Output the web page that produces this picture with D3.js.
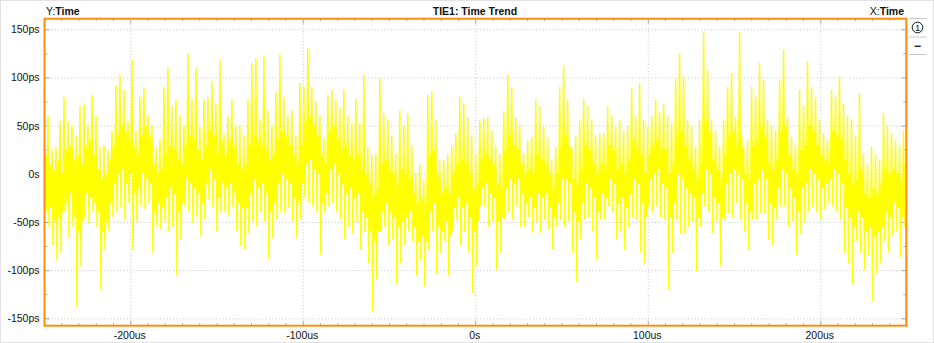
<!DOCTYPE html>
<html><head><meta charset="utf-8">
<script src="https://cdn.jsdelivr.net/npm/d3@7"></script>
<style>html,body{margin:0;padding:0;background:#fff;} svg{display:block;}</style>
</head><body><svg id="c" width="934" height="343"></svg>
<script>
const chartTitle = "TIE1: Time Trend";
const yAxisName = "Time";
const xAxisName = "Time";
const xDomainUs = [-250, 250];
const xTicksUs = [-200, -100, 0, 100, 200];
const xTickLabels = ["-200us", "-100us", "0s", "100us", "200us"];
const yTicksPs = [-150, -100, -50, 0, 50, 100, 150];
const yTickLabels = ["-150ps", "-100ps", "-50ps", "0s", "50ps", "100ps", "150ps"];
// TIE samples (ps), evenly spaced over the time window
const tieValuesPs = [
45,-30,20,-40,60,-55,10,-35,25,-75,5,-50,28,-90,15,-45,55,-82,0,-40,
80,-40,25,-30,55,-67,30,-20,50,-55,15,-45,40,-138,20,-60,70,-96,10,-50,
73,-45,30,-20,50,-52,35,-25,82,-40,20,-30,60,-55,5,-40,28,-121,-5,-60,
30,-79,0,-50,25,-60,15,-30,45,-45,30,-10,92,-40,40,0,103,-35,50,5,
87,-48,45,-10,55,-30,35,0,118,-79,30,-20,45,-50,20,-15,80,-34,40,0,
90,-37,50,-5,61,-30,40,-10,50,-82,10,-40,28,-55,0,-30,35,-58,5,-35,
90,-50,20,-25,111,-60,30,-15,70,-55,25,-20,77,-106,15,-40,60,-68,10,-30,
50,-34,30,-5,125,-40,40,-10,77,-51,35,-15,110,-45,25,-20,49,-65,15,-30,
77,-48,30,-10,80,-27,45,5,96,-35,40,-5,73,-60,20,-25,118,-40,35,-10,
42,-40,20,-15,60,-44,35,-10,77,-35,30,-20,50,-60,10,-30,49,-75,5,-35,
40,-79,10,-35,77,-62,30,-20,115,-50,40,-5,120,-55,35,-15,56,-40,30,-10,
122,-50,25,-20,66,-89,15,-40,50,-67,20,-30,85,-48,35,-10,124,-40,45,0,
80,-41,40,-5,60,-35,30,-10,66,-50,20,-25,40,-67,10,-30,94,-48,30,-10,
90,-24,55,10,130,-30,60,15,90,-34,50,5,75,-40,40,0,61,-84,20,-30,
38,-41,10,-20,82,-34,45,5,87,-31,50,10,77,-40,35,0,68,-48,25,-10,
87,-68,30,-20,60,-55,20,-15,52,-62,15,-25,78,-50,20,-20,52,-79,5,-40,
103,-60,0,-45,28,-93,-10,-60,20,-143,-20,-70,21,-110,-15,-60,99,-60,10,-40,
63,-55,15,-30,56,-75,5,-40,40,-68,0,-45,21,-115,-10,-55,66,-93,5,-50,
50,-75,0,-45,63,-60,-5,-40,30,-70,-20,-55,1,-106,-30,-70,10,-90,-25,-65,
-6,-117,-30,-70,82,-79,20,-40,85,-60,25,-30,56,-103,0,-55,14,-82,-20,-60,
14,-70,-15,-50,21,-106,-20,-65,30,-60,0,-35,42,-48,10,-25,80,-75,15,-35,
73,-60,10,-30,59,-82,0,-45,40,-124,-15,-60,21,-96,-10,-50,56,-34,15,-15,
58,-34,20,-10,59,-55,15,-20,45,-50,10,-25,30,-100,-10,-50,21,-82,-15,-45,
65,-48,25,-15,103,-40,40,-5,90,-48,30,-10,59,-34,25,-5,50,-55,10,-20,
21,-55,0,-30,35,-45,5,-25,38,-61,0,-35,78,-50,20,-20,70,-61,15,-25,
49,-48,10,-20,38,-58,0,-35,14,-79,-15,-45,28,-55,0,-30,90,-48,30,-5,
113,-55,40,-5,77,-50,30,-10,28,-82,-5,-40,40,-112,-10,-50,56,-68,5,-30,
78,-48,30,-10,70,-45,25,-15,56,-60,10,-25,40,-89,0,-40,42,-48,10,-20,
42,-48,5,-25,70,-34,30,-5,60,-40,25,-10,49,-68,5,-30,56,-60,10,-25,
45,-79,0,-35,50,-55,15,-20,89,-45,35,-5,60,-48,25,-10,94,-82,20,-30,
56,-93,0,-45,49,-34,20,-5,60,-40,30,0,77,-34,35,5,65,-45,25,-10,
73,-48,25,-15,60,-120,0,-45,52,-82,10,-30,99,-48,40,0,125,-62,45,-5,
101,-62,30,-15,56,-55,15,-20,50,-50,5,-25,28,-101,-5,-45,56,-55,10,-20,
147,-34,55,5,108,-40,45,0,56,-62,15,-25,45,-50,5,-30,28,-96,-5,-45,
56,-48,20,-10,90,-41,40,0,104,-45,45,5,59,-30,30,0,147,-48,40,-5,
28,-60,0,-30,35,-79,-5,-40,90,-48,30,-10,80,-48,35,-5,115,-41,50,5,
97,-41,40,-5,56,-68,10,-30,50,-75,5,-35,45,-48,15,-15,97,-34,45,5,
129,-34,50,0,59,-55,20,-15,38,-50,5,-25,30,-84,0,-40,87,-62,25,-15,
70,-50,30,-10,117,-40,50,5,90,-34,45,0,80,-40,30,-5,56,-48,20,-15,
42,-37,15,-10,35,-30,10,-5,87,-34,45,5,80,-40,40,0,101,-48,35,-10,
73,-82,15,-35,60,-93,0,-45,56,-115,-10,-55,40,-70,-5,-40,84,-82,5,-45,
21,-100,-20,-60,10,-85,-25,-55,28,-132,-15,-65,20,-103,-20,-60,14,-93,-10,-55,
63,-70,5,-40,50,-82,0,-45,42,-65,5,-30,35,-60,0,-35,30,-86,-5,-45,
45,-55,10,-25
];

const FONT = '"Liberation Sans", Arial, sans-serif';
const svg = d3.select("#c");
const W = 934, H = 343;
const frame = {left: 44.5, top: 18.7, right: 906.3, bottom: 325.7};

const x = d3.scaleLinear().domain(xDomainUs).range([44, 906.5]);
const y = d3.scaleLinear().domain([-150, 150]).range([318.3, 29.3]);

// outer light border
svg.append("rect").attr("x", 0.5).attr("y", 0.5).attr("width", W - 1).attr("height", H - 1)
  .attr("fill", "#fff").attr("stroke", "#e2e2e2");

// clip
svg.append("defs").append("clipPath").attr("id", "plotClip").append("rect")
  .attr("x", frame.left).attr("y", frame.top)
  .attr("width", frame.right - frame.left).attr("height", frame.bottom - frame.top);

// grid
const gridColor = "#c4c4c4";
const gx = svg.append("g").attr("transform", `translate(0,${frame.bottom})`)
  .call(d3.axisBottom(x).tickValues(xTicksUs).tickSize(-(frame.bottom - frame.top)).tickFormat(""));
gx.select(".domain").remove();
gx.selectAll("line").attr("stroke", gridColor).attr("stroke-dasharray", "1,2.3");
const gy = svg.append("g").attr("transform", `translate(${frame.left},0)`)
  .call(d3.axisLeft(y).tickValues(yTicksPs).tickSize(-(frame.right - frame.left)).tickFormat(""));
gy.select(".domain").remove();
gy.selectAll("line").attr("stroke", gridColor).attr("stroke-dasharray", "1,2.3");

// minor / major tick marks on all four sides (inward)
const tickColor = "#a8a8a8";
const minorX = d3.range(-240, 250, 10).filter(v => !xTicksUs.includes(v));
const minorY = d3.range(-150, 151, 25).filter(v => !yTicksPs.includes(v));
function tickAxis(gen, tr, vals, size) {
  const g = svg.append("g").attr("transform", tr)
    .call(gen.tickValues(vals).tickSize(size).tickFormat(""));
  g.select(".domain").remove();
  g.selectAll("line").attr("stroke", tickColor);
}
tickAxis(d3.axisBottom(x), `translate(0,${frame.bottom})`, minorX, -2.5);
tickAxis(d3.axisBottom(x), `translate(0,${frame.bottom})`, xTicksUs, -5);
tickAxis(d3.axisTop(x), `translate(0,${frame.top})`, minorX, -2.5);
tickAxis(d3.axisTop(x), `translate(0,${frame.top})`, xTicksUs, -5);
tickAxis(d3.axisLeft(y), `translate(${frame.left},0)`, minorY, -3);
tickAxis(d3.axisLeft(y), `translate(${frame.left},0)`, yTicksPs, -5);
tickAxis(d3.axisRight(y), `translate(${frame.right},0)`, minorY, -3);
tickAxis(d3.axisRight(y), `translate(${frame.right},0)`, yTicksPs, -5);

// data trace
const n = tieValuesPs.length;
const tOf = i => xDomainUs[0] + i * (xDomainUs[1] - xDomainUs[0]) / (n - 1);
const line = d3.line().x((d, i) => x(tOf(i))).y(d => y(d));
svg.append("path").datum(tieValuesPs)
  .attr("clip-path", "url(#plotClip)")
  .attr("fill", "none").attr("stroke", "#ffff00").attr("stroke-width", 1.5)
  .attr("stroke-linejoin", "bevel")
  .attr("d", line);

// frame
svg.append("rect").attr("x", frame.left).attr("y", frame.top)
  .attr("width", frame.right - frame.left).attr("height", frame.bottom - frame.top)
  .attr("fill", "none").attr("stroke", "#ff8c0f").attr("stroke-width", 2);

// axis labels
const ax = svg.append("g").attr("transform", `translate(0,${frame.bottom})`)
  .call(d3.axisBottom(x).tickValues(xTicksUs).tickSize(0).tickPadding(5.5)
    .tickFormat((d, i) => xTickLabels[i]));
ax.select(".domain").remove();
ax.selectAll("text").attr("font-family", FONT).attr("font-size", "10.5px").attr("fill", "#111")
  .attr("dx", "-1");
const ay = svg.append("g").attr("transform", `translate(${frame.left},0)`)
  .call(d3.axisLeft(y).tickValues(yTicksPs).tickSize(0).tickPadding(5)
    .tickFormat((d, i) => yTickLabels[i]));
ay.select(".domain").remove();
ay.selectAll("text").attr("font-family", FONT).attr("font-size", "10.5px").attr("fill", "#111");

// header texts
const yt = svg.append("text").attr("x", 46).attr("y", 14.5)
  .attr("font-family", FONT).attr("font-size", "10.5px").attr("fill", "#111");
yt.append("tspan").text("Y:");
yt.append("tspan").attr("font-weight", "bold").text(yAxisName);
svg.append("text").attr("x", 475).attr("y", 14.5).attr("text-anchor", "middle")
  .attr("font-family", FONT).attr("font-size", "10.5px").attr("font-weight", "bold")
  .attr("fill", "#111").text(chartTitle);
const xt = svg.append("text").attr("x", 904).attr("y", 14.5).attr("text-anchor", "end")
  .attr("font-family", FONT).attr("font-size", "10.5px").attr("fill", "#111");
xt.append("tspan").text("X:");
xt.append("tspan").attr("font-weight", "bold").text(xAxisName);

// right side panel
[18.5, 37, 54.5].forEach(yy => {
  svg.append("line").attr("x1", 909).attr("x2", 926.5).attr("y1", yy).attr("y2", yy)
    .attr("stroke", "#c8c8c8");
});
svg.append("circle").attr("cx", 917.5).attr("cy", 27.5).attr("r", 5.3)
  .attr("fill", "none").attr("stroke", "#111").attr("stroke-width", 1);
svg.append("text").attr("x", 917.6).attr("y", 31.2).attr("text-anchor", "middle")
  .attr("font-family", FONT).attr("font-size", "9.5px").attr("fill", "#111")
  .text("1");
svg.append("text").attr("x", 917.5).attr("y", 49.5).attr("text-anchor", "middle")
  .attr("font-family", FONT).attr("font-size", "12px").attr("font-weight", "bold").attr("fill", "#111")
  .text("−");
</script>
</body></html>
